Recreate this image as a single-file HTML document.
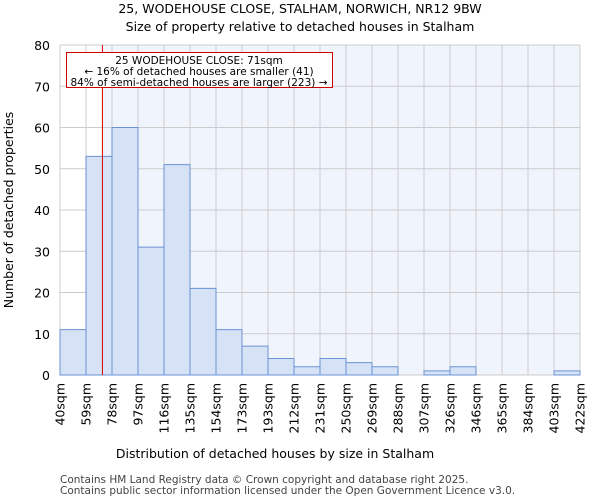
<!DOCTYPE html>
<html><head><meta charset="utf-8"><style>
body{margin:0;background:#fff;font-family:"DejaVu Sans","Liberation Sans",sans-serif}
</style></head><body>
<svg id="c" width="600" height="500" xmlns="http://www.w3.org/2000/svg" font-family="DejaVu Sans, Liberation Sans, sans-serif">
<text x="300" y="13" text-anchor="middle" font-size="12.5">25, WODEHOUSE CLOSE, STALHAM, NORWICH, NR12 9BW</text>
<text x="300" y="31" text-anchor="middle" font-size="12.5">Size of property relative to detached houses in Stalham</text>
<g id="plot"></g>
<text x="275" y="458" text-anchor="middle" font-size="12.5">Distribution of detached houses by size in Stalham</text>
<text transform="translate(13,210) rotate(-90)" text-anchor="middle" font-size="12.5">Number of detached properties</text>
<text x="60" y="483" font-size="10.5" fill="#444">Contains HM Land Registry data © Crown copyright and database right 2025.</text>
<text x="60" y="494" font-size="10.5" fill="#444">Contains public sector information licensed under the Open Government Licence v3.0.</text>
</svg>
<script>
const binLabels=["40sqm","59sqm","78sqm","97sqm","116sqm","135sqm","154sqm","173sqm","193sqm","212sqm","231sqm","250sqm","269sqm","288sqm","307sqm","326sqm","346sqm","365sqm","384sqm","403sqm","422sqm"];
const counts=[11,53,60,31,51,21,11,7,4,2,4,3,2,0,1,2,0,0,0,1];
const yTicks=[0,10,20,30,40,50,60,70,80];
const propertySize=71;
const NS="http://www.w3.org/2000/svg";
const L=60,R=580,T=45,B=375;
const bw=(R-L)/counts.length;
const y=v=>B-(v/80)*(B-T);
const g=document.getElementById('plot');
function mk(t,a){const e=document.createElementNS(NS,t);for(const k in a)e.setAttribute(k,a[k]);g.appendChild(e);return e;}
const mx=L+((propertySize-59)/19)*bw+bw;
let e=mk('rect',{x:mx,y:T,width:R-mx,height:B-T,fill:'#f0f4fc'});


for(const t of yTicks){
 e=mk('line',{x1:L,x2:R,y1:y(t),y2:y(t),stroke:'#ccc','stroke-width':1});
 
 
 e=mk('text',{x:L-10,y:y(t)+5,'text-anchor':'end','font-size':12.5});
 e.textContent=t;
 
 
}
binLabels.forEach((lb,i)=>{
 const x=L+i*bw;
 e=mk('line',{x1:x,x2:x,y1:T,y2:B,stroke:'#ccc','stroke-width':1});
 
 
 e=mk('text',{transform:`translate(${x+4.5},${B+8}) rotate(-90)`,'text-anchor':'end','font-size':12.5});
 e.textContent=lb;
 
 
});
counts.forEach((c,i)=>{
 if(c<=0)return;
 e=mk('rect',{x:L+i*bw,y:y(c),width:bw,height:B-y(c),fill:'#d6e2f5',stroke:'#6a93d4','stroke-width':1});
 
 
});
e=mk('line',{x1:mx,x2:mx,y1:T,y2:B,stroke:'#d00','stroke-width':1});


e=mk('rect',{x:66.5,y:52.5,width:266,height:35,fill:'#fff',stroke:'#c00','stroke-width':1});


["25 WODEHOUSE CLOSE: 71sqm","← 16% of detached houses are smaller (41)","84% of semi-detached houses are larger (223) →"].forEach((t,i)=>{
 e=mk('text',{x:199,y:64+i*11,'text-anchor':'middle','font-size':10.5});
 e.textContent=t;
 
 
});
</script>
</body></html>
